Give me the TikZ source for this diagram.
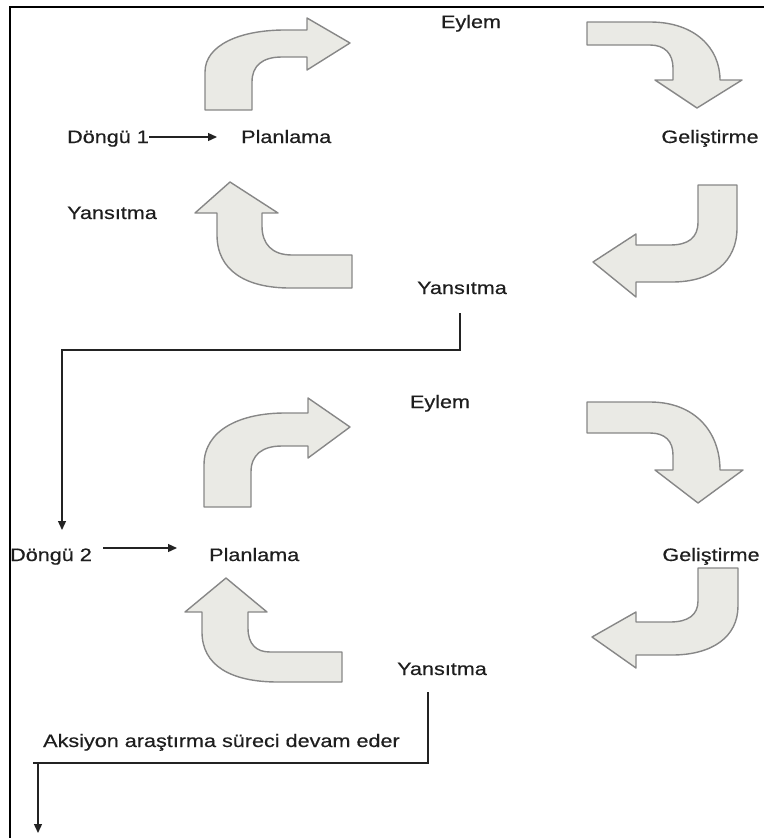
\documentclass[tikz,border=0pt]{standalone}
\usepackage{fontspec}
\setmainfont[FakeStretch=1.2,FakeBold=0.5]{Liberation Sans}
\usetikzlibrary{arrows.meta}

\definecolor{arrowfill}{RGB}{234,234,229}
\definecolor{arrowline}{RGB}{135,135,135}
\definecolor{textgray}{RGB}{30,30,30}
\definecolor{linegray}{RGB}{35,35,35}

\begin{document}
\begin{tikzpicture}[x=1pt,y=-1pt,
  lbl/.style={inner sep=0pt, text=textgray, font=\fontsize{18}{20}\selectfont},
  blockarrow/.style={fill=arrowfill, draw=arrowline, line width=1.4pt, line join=round},
  conn/.style={draw=linegray, line width=1.3pt},
  tip/.style={-{Triangle[length=9pt,width=8pt]}},
  frameline/.style={draw=black, line width=1.4pt}]

\useasboundingbox (0,0) rectangle (764,838);

% outer frame (left and top edges)
\draw[frameline] (10,838) -- (10,7) -- (764,7);

% ---------------- cycle 1 ----------------
\node[lbl, anchor=base]       (ey1) at (471,28)  {Eylem};
\node[lbl, anchor=base west]  (d1)  at (67,143)  {Döngü 1};
\node[lbl, anchor=base west]  (pl1) at (241,143) {Planlama};
\node[lbl, anchor=base]       (ge1) at (710,143) {Geliştirme};
\node[lbl, anchor=base west]  (yl1) at (67,219)  {Yansıtma};
\node[lbl, anchor=base]       (ya1) at (462,294) {Yansıtma};

% planning -> action
\path[blockarrow] (205,110) -- (205,72) .. controls (205,45) and (240,30) .. (285,30)
  -- (307,30) -- (307,18) -- (350,43) -- (307,70) -- (307,57) -- (282,57)
  .. controls (262,57) and (252,66) .. (252,82) -- (252,110) -- cycle;
% action -> development
\path[blockarrow] (587,22) -- (650,22) .. controls (695,22) and (720,48) .. (720,80)
  -- (742,80) -- (697,108) -- (655,80) -- (673,80) -- (673,68)
  .. controls (673,54) and (665,45) .. (650,45) -- (587,45) -- cycle;
% development -> reflection
\path[blockarrow] (698,185) -- (737,185) -- (737,228) .. controls (737,262) and (712,282) .. (672,282)
  -- (636,282) -- (636,297) -- (593,262) -- (636,234) -- (636,245) -- (670,245)
  .. controls (688,245) and (698,238) .. (698,222) -- cycle;
% reflection -> planning
\path[blockarrow] (230,182) -- (278,213) -- (262,213) -- (262,226)
  .. controls (262,244) and (272,255) .. (292,255) -- (352,255) -- (352,288) -- (290,288)
  .. controls (245,288) and (217,270) .. (217,235) -- (217,213) -- (195,213) -- cycle;

\coordinate (d1tip) at (217,137);
\draw[conn, tip] (d1.east |- d1tip) -- (d1tip);

% ---------------- link to cycle 2 ----------------
\coordinate (c1s) at (460,313);
\coordinate (c1m) at (62,350);
\coordinate (c1e) at (62,530);
\draw[conn, tip] (c1s) |- (c1m) -- (c1e);

% ---------------- cycle 2 ----------------
\node[lbl, anchor=base]       (ey2) at (440,408) {Eylem};
\node[lbl, anchor=base west]  (d2)  at (10,561)  {Döngü 2};
\node[lbl, anchor=base west]  (pl2) at (209,561) {Planlama};
\node[lbl, anchor=base]       (ge2) at (711,561) {Geliştirme};
\node[lbl, anchor=base]       (ya2) at (442,675) {Yansıtma};
\node[lbl, anchor=base west]  (ak)  at (43,747)  {Aksiyon araştırma süreci devam eder};

\path[blockarrow] (204,507) -- (204,465) .. controls (204,430) and (240,413) .. (285,413)
  -- (308,413) -- (308,398) -- (350,427) -- (308,458) -- (308,446) -- (282,446)
  .. controls (262,446) and (251,455) .. (251,472) -- (251,507) -- cycle;
\path[blockarrow] (587,402) -- (650,402) .. controls (695,402) and (720,432) .. (720,470)
  -- (743,470) -- (698,503) -- (655,470) -- (673,470) -- (673,455)
  .. controls (673,441) and (665,433) .. (650,433) -- (587,433) -- cycle;
\path[blockarrow] (698,568) -- (738,568) -- (738,606) .. controls (738,637) and (712,655) .. (672,655)
  -- (636,655) -- (636,668) -- (592,637) -- (636,612) -- (636,622) -- (670,622)
  .. controls (688,622) and (698,615) .. (698,601) -- cycle;
\path[blockarrow] (226,578) -- (267,612) -- (248,612) -- (248,628)
  .. controls (248,644) and (256,652) .. (270,652) -- (342,652) -- (342,682) -- (278,682)
  .. controls (230,682) and (202,665) .. (202,632) -- (202,612) -- (185,612) -- cycle;

\coordinate (d2s) at (103,548);
\coordinate (d2tip) at (177,548);
\draw[conn, tip] (d2s) -- (d2tip);

% ---------------- process continues ----------------
\coordinate (c2s) at (428,692);
\coordinate (c2m) at (33,763);
\coordinate (c2d) at (38,763);
\coordinate (c2e) at (38,833);
\draw[conn] (c2s) |- (c2m);
\draw[conn, tip] (c2d) -- (c2e);

\end{tikzpicture}
\end{document}
